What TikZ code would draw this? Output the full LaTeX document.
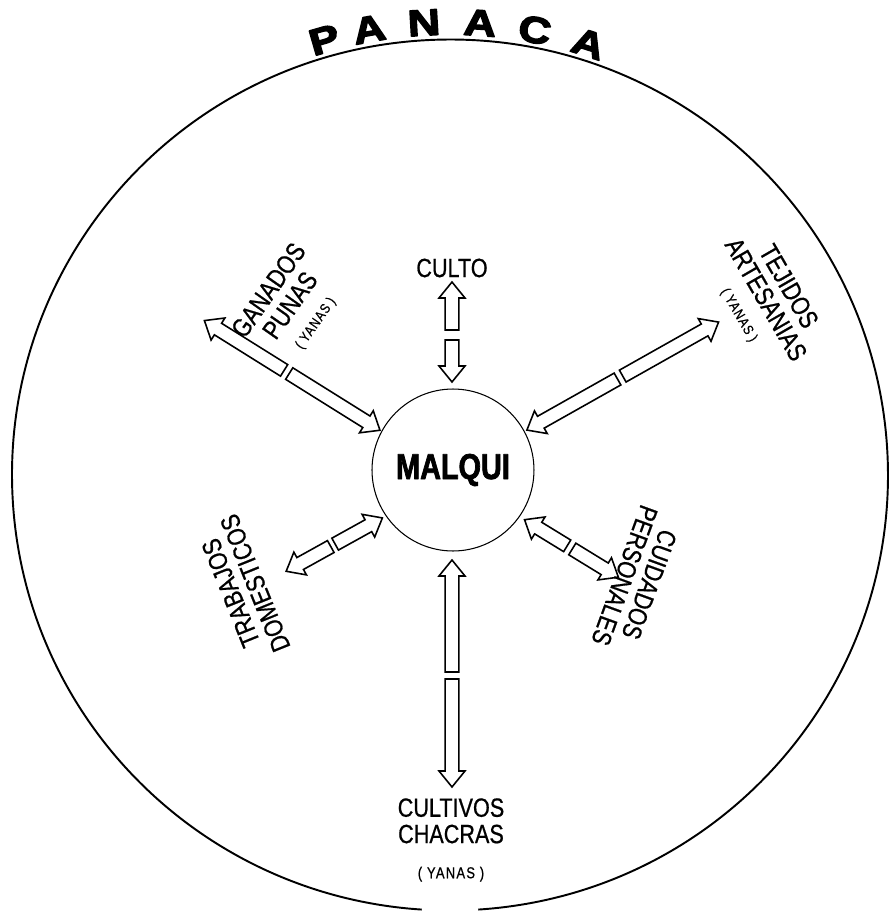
\documentclass[tikz,border=0pt]{standalone}
\usepackage{fontspec}
\setmainfont{Liberation Sans}
\newfontfamily\narrowsans{Liberation Sans}[FakeStretch=0.82,FakeBold=0.7]
\newfontfamily\heavysans{Liberation Sans Bold}[FakeStretch=1.22,FakeBold=4]
\newfontfamily\malquisans{Liberation Sans Bold}[FakeStretch=0.8,FakeBold=2]
\begin{document}
\begin{tikzpicture}[x=.02cm,y=.02cm,line join=round,
    rim/.style={line width=1.1pt},
    hollow/.style={draw,line width=.9pt,line join=miter},
    lbl/.style={font=\narrowsans\fontsize{15}{15}\selectfont,align=center,inner sep=0pt},
    letter/.style={font=\heavysans\fontsize{21}{21}\selectfont,inner sep=0pt}]
  \useasboundingbox (-453,-447) rectangle (436,470);
  % the panaca: outer ring, open at the bottom
  \draw[rim] (-3,-5) ++(-86.3:438 and 435.5) arc[start angle=-86.3,end angle=266.3,x radius=438,y radius=435.5];
  \foreach \ch/\ang [count=\i] in {P/106.1,A/100.3,N/93.3,A/86.2,C/79.2,A/72.2}
    \node[letter,rotate=\ang-90] (pan\i) at ([shift={(-3,-5)}]\ang:453) {\ch};
  % the malqui in the middle
  \node[draw,circle,line width=.6pt,minimum size=3.24cm,inner sep=0pt,
    font=\malquisans\fontsize{20.5}{20}\selectfont] (malqui) at (0,0) {MALQUI};
  % split double arrows: angle/offset/inner piece tail,tip/outer piece tail,tip
  \foreach \ang/\off/\ia/\ib/\oa/\ob in {90/1/130/88/140/188,29.4/-1.5/188/84/194/304,
      148/5/190/83/196/290,209/7.7/139/85/144/195,-31.5/-5/137/87/143/197,270/-1/202/90/209/317}
  {
    \begin{scope}[rotate=\ang,shift={(0,\off)}]
      \draw[hollow] (\ia,-6.8) -- ({\ib+16},-6.8) -- ({\ib+16},-13) -- (\ib,0)
        -- ({\ib+16},13) -- ({\ib+16},6.8) -- (\ia,6.8) -- cycle;
      \draw[hollow] (\oa,-6.8) -- ({\ob-16},-6.8) -- ({\ob-16},-13) -- (\ob,0)
        -- ({\ob-16},13) -- ({\ob-16},6.8) -- (\oa,6.8) -- cycle;
    \end{scope}
  }
  % what the malqui receives
  \node[lbl] (culto) at (-1,202) {CULTO};
  \node[lbl,anchor=north] (cultivos) at (-2,-328)
    {CULTIVOS\\CHACRAS\\[5pt]{\fontsize{9}{9}\selectfont\addfontfeatures{LetterSpace=8}( YANAS )}};
  \node[lbl,rotate=55] (ganados) at (-162,164)
    {GANADOS\\PUNAS\\{\fontsize{8}{9}\selectfont\addfontfeatures{LetterSpace=8}( YANAS )}};
  \node[lbl,rotate=-60] (tejidos) at (312,170)
    {TEJIDOS\\ARTESANIAS\\{\fontsize{8}{9}\selectfont\addfontfeatures{LetterSpace=8}( YANAS )}};
  \node[lbl,rotate=112] (trabajos) at (-210,-118) {TRABAJOS\\DOMESTICOS};
  \node[lbl,rotate=-110] (cuidados) at (184,-110) {CUIDADOS\\PERSONALES};
\end{tikzpicture}
\end{document}
